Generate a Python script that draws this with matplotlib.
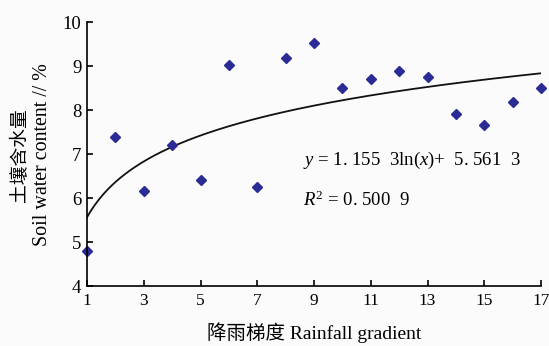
import numpy as np
import matplotlib.pyplot as plt

# rainfall gradient vs soil water content
gradient = [1, 2, 3, 4, 5, 6, 7, 8, 9, 10, 11, 12, 13, 14, 15, 16, 17]
water = [4.80, 7.39, 6.15, 7.20, 6.41, 9.03, 6.25, 9.19, 9.53,
         8.49, 8.71, 8.89, 8.76, 7.91, 7.67, 8.18, 8.49]
x_ticks = [1, 3, 5, 7, 9, 11, 13, 15, 17]
y_ticks = [4, 5, 6, 7, 8, 9, 10]

# log trendline as printed on the chart
coef_a = 1.1553
coef_b = 5.5613

serif = ['Liberation Serif', 'Noto Sans CJK SC']
plt.rcParams['font.family'] = serif
plt.rcParams['mathtext.fontset'] = 'custom'
plt.rcParams['mathtext.it'] = 'Liberation Serif:italic'
plt.rcParams['mathtext.rm'] = 'Liberation Serif'

fig = plt.figure(figsize=(5.49, 3.46), dpi=100, facecolor='#fbfbfb')
ax = fig.add_axes([0.1585, 0.1734, 0.827, 0.763])
ax.set_facecolor('#fbfbfb')

xs = np.linspace(1, 17, 200)
ax.plot(xs, coef_a * np.log(xs) + coef_b, color='#111111', lw=1.3)
ax.plot(gradient, water, 'D', color='#2b2b96', markersize=5, clip_on=False)

ax.set_xlim(1, 17)
ax.set_ylim(4, 10)
ax.set_xticks(x_ticks)
ax.set_yticks(y_ticks)
ax.spines['top'].set_visible(False)
ax.spines['right'].set_visible(False)
for s in ['left', 'bottom']:
    ax.spines[s].set_linewidth(1.2)
ax.tick_params(direction='in', length=4, width=1.2, labelsize=13.5, pad=4)
ax.tick_params(axis='x', labelsize=12.5, pad=5)

ax.text(0.476, 0.477, '$y$ = 1. 155  3ln($x$)+  5. 561  3', transform=ax.transAxes,
        fontsize=13.5, va='center', ha='left')
ax.text(0.476, 0.326, '$R^2$ = 0. 500  9', transform=ax.transAxes,
        fontsize=13.5, va='center', ha='left')

fig.text(0.572, 0.04, '降雨梯度 Rainfall gradient', fontsize=14,
         ha='center', va='center', family=serif)
fig.text(0.035, 0.552, '土壤含水量', rotation=90, fontsize=13.5,
         ha='center', va='center', family=['Noto Sans CJK SC'])
fig.text(0.078, 0.552, 'Soil water content // %', rotation=90, fontsize=14.4,
         ha='center', va='center', family=serif)

fig.savefig('out.png', dpi=100, facecolor=fig.get_facecolor())
